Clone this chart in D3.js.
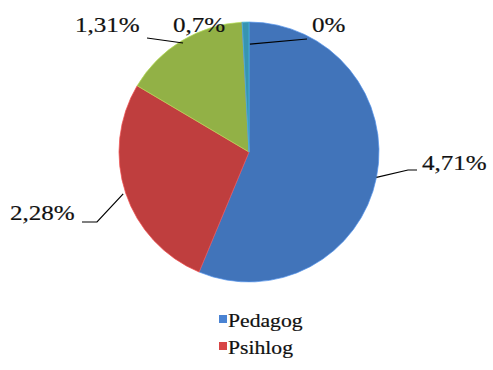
<!DOCTYPE html>
<html>
<head>
<meta charset="utf-8">
<script src="https://cdn.jsdelivr.net/npm/d3@7"></script>
<style>
  html, body { margin: 0; padding: 0; background: #fff; }
  svg { display: block; }
  text { font-family: "Liberation Serif", "Times New Roman", serif; fill: #111; }
</style>
</head>
<body>
<svg id="chart" width="493" height="370"></svg>
<script>
// ---- data ----
const categories = ["Pedagog", "Psihlog", "", "", ""];
const values = [4.71, 2.28, 1.31, 0, 0.07];
const valueLabels = ["4,71%", "2,28%", "1,31%", "0%", "0,7%"];
const legendShown = ["Pedagog", "Psihlog"];

// ---- style / layout ----
const colors = ["#4a83d3", "#d84646", "#a5c84f", "#8064a2", "#3fa8c8"];
const cx = 249, cy = 152, R = 130;
const sx = 1.14; // horizontal stretch of text
const labelLayout = [
  {x: 422, y: 170, elbow: [[417, 170], [408, 170]], rf: 1.0, da: 0, line: true},
  {x: 10,  y: 220, elbow: [[82, 222], [97, 222]],  rf: 1.02, da: 0, line: true},
  {x: 75,  y: 32,  elbow: [[147, 38]],             rf: 0.98, da: 0, line: true},
  {x: 312, y: 32,  elbow: [[307, 39]],             rf: 0.83, da: 3.5, line: true},
  {x: 173, y: 32,  elbow: [],                      rf: 1.0, da: 0, line: false}
];

const svg = d3.select("#chart");
const defs = svg.append("defs");

colors.forEach((c, i) => {
  const base = d3.color(c);
  const g = defs.append("radialGradient")
    .attr("id", "grad" + i)
    .attr("gradientUnits", "userSpaceOnUse")
    .attr("cx", cx).attr("cy", cy).attr("r", R);
  g.append("stop").attr("offset", "0%").attr("stop-color", base.darker(0.05));
  g.append("stop").attr("offset", "90%").attr("stop-color", base);
  g.append("stop").attr("offset", "95%").attr("stop-color", base.brighter(0.15));
  g.append("stop").attr("offset", "100%").attr("stop-color", base.darker(0.35));
});

const pie = d3.pie().sort(null).value(d => d)(values);
const arc = d3.arc().innerRadius(0).outerRadius(R);

const g = svg.append("g").attr("transform", `translate(${cx},${cy})`);
g.selectAll("path.slice").data(pie).join("path")
  .attr("class", "slice")
  .attr("d", arc)
  .attr("fill", (d, i) => `url(#grad${i})`)
  .attr("stroke", (d, i) => d3.color(colors[i]).brighter(0.3))
  .attr("stroke-width", 0.7);

// labels & leaders
const labels = svg.append("g");
pie.forEach((d, i) => {
  const L = labelLayout[i];
  const a = (d.startAngle + d.endAngle) / 2 + L.da * Math.PI / 180;
  const end = [cx + Math.sin(a) * R * L.rf, cy - Math.cos(a) * R * L.rf];
  if (L.line) {
    const pts = [...L.elbow, end];
    labels.append("path")
      .attr("d", d3.line()(pts))
      .attr("fill", "none").attr("stroke", "#000").attr("stroke-width", 1.2);
  }
  labels.append("text")
    .attr("transform", `translate(${L.x},${L.y}) scale(${sx},1)`)
    .attr("font-size", 22)
    .attr("stroke", "#111").attr("stroke-width", 0.2)
    .text(valueLabels[i]);
});

// legend
const lg = svg.append("g");
legendShown.forEach((name, j) => {
  const i = categories.indexOf(name);
  const y = 327 + j * 27;
  lg.append("rect").attr("x", 219).attr("y", y - 12).attr("width", 8).attr("height", 8)
    .attr("fill", colors[i]);
  lg.append("text")
    .attr("transform", `translate(228,${y}) scale(${sx},1)`)
    .attr("font-size", 19)
    .attr("stroke", "#111").attr("stroke-width", 0.2)
    .text(name);
});
</script>
</body>
</html>
